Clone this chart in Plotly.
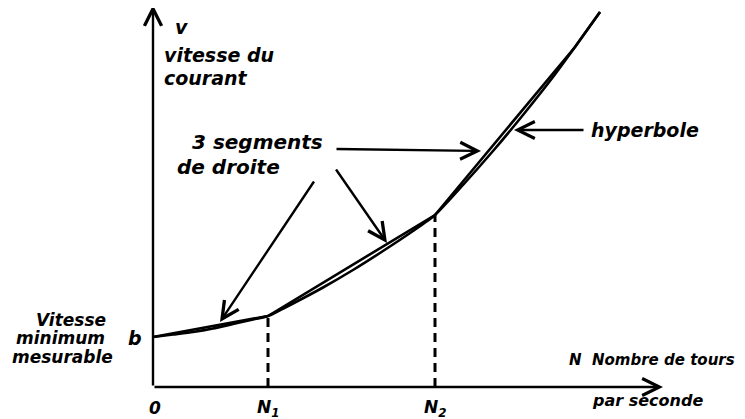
import plotly.graph_objects as go

# breakpoints of the 3 straight segments (N, v)
seg_n = [0, 11.5, 28.2, 42.2, 44.7]
seg_v = [5.0, 7.1, 17.2, 34.0, 37.5]

# hyperbola
curve_n = [0, 2, 4, 6, 8, 10, 11.5, 14, 17, 20, 23, 26, 28.2, 31, 34, 37, 40, 42.2, 44.7]
curve_v = [5.0, 5.25, 5.5, 5.85, 6.3, 6.75, 7.1, 8.35, 9.95, 11.7, 13.6, 15.6, 17.2,
           20.2, 23.6, 27.2, 31.0, 34.0, 37.5]

# marked speeds on the N axis
mark_n = [11.5, 28.2]
mark_v = [7.1, 17.2]
mark_labels = ["N<sub>1</sub>", "N<sub>2</sub>"]

x_end = 51.0
y_end = 38.2

ink = "#000000"
hand = dict(family="DejaVu Sans", color=ink, weight="bold", style="italic")

fig = go.Figure()

fig.add_trace(go.Scatter(x=curve_n, y=curve_v, mode="lines",
                         line=dict(color=ink, width=2.6, shape="spline", smoothing=0.6)))
fig.add_trace(go.Scatter(x=seg_n, y=seg_v, mode="lines",
                         line=dict(color=ink, width=2.6)))

for n, v in zip(mark_n, mark_v):
    fig.add_trace(go.Scatter(x=[n, n], y=[0, v], mode="lines",
                             line=dict(color=ink, width=3, dash="9px,6px")))

# axes drawn as arrows
for hx, hy in [(0, y_end), (x_end, 0)]:
    fig.add_annotation(x=hx, y=hy, ax=0, ay=0, xref="x", yref="y", axref="x", ayref="y",
                       text="", showarrow=True, arrowhead=5, arrowsize=1.4, arrowwidth=2.4,
                       arrowcolor=ink)

# pointer arrows: (tail_x, tail_y, head_x, head_y)
pointers = [
    (18.2, 23.8, 32.8, 23.6),
    (18.2, 21.9, 23.4, 14.4),
    (16.2, 20.7, 6.7, 6.5),
    (43.2, 25.7, 36.1, 25.7),
]
for tx, ty, hx, hy in pointers:
    fig.add_annotation(x=hx, y=hy, ax=tx, ay=ty, xref="x", yref="y", axref="x", ayref="y",
                       text="", showarrow=True, arrowhead=5, arrowsize=1.4, arrowwidth=2.4,
                       arrowcolor=ink)

labels = [
    ("v", 2.0, 36.0, "left", 19),
    ("vitesse du", 0.9, 33.2, "left", 19),
    ("courant", 0.9, 30.9, "left", 19),
    ("3 segments", 3.7, 24.5, "left", 20),
    ("de droite", 2.2, 22.0, "left", 20),
    ("hyperbole", 43.6, 25.7, "left", 19),
    ("Vitesse", -8.2, 6.7, "center", 17),
    ("minimum", -9.3, 4.9, "center", 17),
    ("mesurable", -9.1, 3.0, "center", 17),
    ("b", -1.8, 4.9, "center", 19),
    ("0", 0.2, -2.1, "center", 17),
    ("N  Nombre de tours", 41.4, 2.7, "left", 15),
    ("par seconde", 43.7, -1.3, "left", 16),
]
for txt, x, y, anchor, size in labels:
    fig.add_annotation(x=x, y=y, xref="x", yref="y", text=txt, showarrow=False,
                       xanchor=anchor, yanchor="middle", font=dict(hand, size=size))

for n, lab in zip(mark_n, mark_labels):
    fig.add_annotation(x=n, y=-2.1, xref="x", yref="y", text=lab, showarrow=False,
                       xanchor="center", yanchor="middle", font=dict(hand, size=17))

# page body keeps its default 8px margin, so the ranges are shifted to compensate
fig.update_layout(
    width=745, height=419,
    margin=dict(l=0, r=0, t=0, b=0),
    paper_bgcolor="white", plot_bgcolor="white",
    showlegend=False,
    xaxis=dict(range=[-14.5, 60.0], visible=False),
    yaxis=dict(range=[-4.0, 37.9], visible=False),
)

fig.write_html("out.html")
